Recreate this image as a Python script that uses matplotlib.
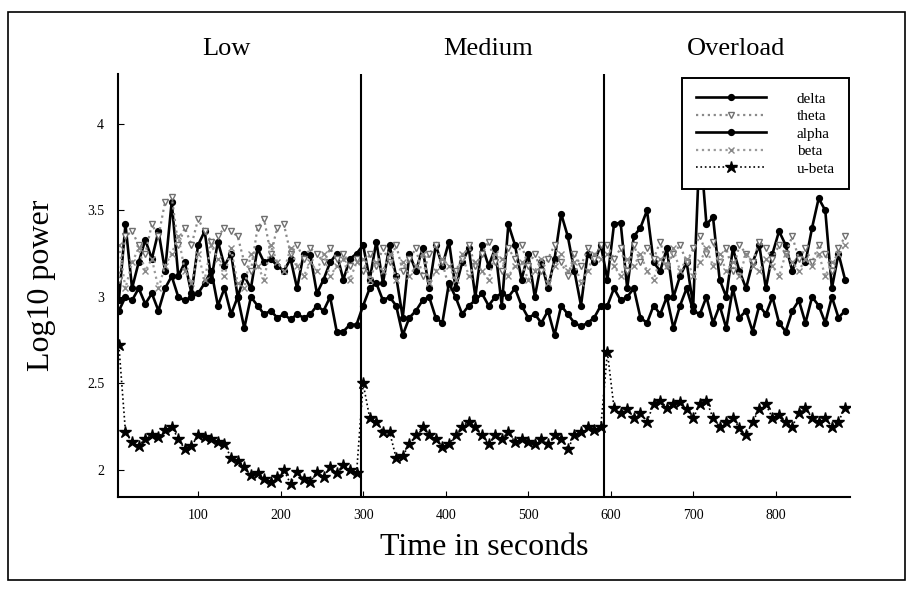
import numpy as np
import matplotlib
matplotlib.use("Agg")
import matplotlib.pyplot as plt
from matplotlib.patches import Rectangle

plt.rcParams['font.family'] = ['Liberation Serif', 'DejaVu Serif']

# time grid: one sample every 8 s
t = np.arange(4, 885, 8)

delta = [2.98, 3.42, 3.05, 3.20, 3.33, 3.22, 3.38, 3.15, 3.55, 3.12, 3.20, 3.02, 3.30, 3.38, 3.10, 3.32, 3.18, 3.25, 3.00,
         3.12, 3.05, 3.28, 3.20, 3.22, 3.18, 3.15, 3.22, 3.05, 3.25, 3.24, 3.02, 3.10, 3.20, 3.25, 3.10, 3.22, 3.25,
         3.30, 3.10, 3.32, 3.08, 3.30, 3.12, 2.88, 3.25, 3.15, 3.28, 3.05, 3.30, 3.18, 3.32, 3.05, 3.20, 3.28, 3.00, 3.30,
         3.18, 3.28, 2.95, 3.42, 3.30, 3.10, 3.25, 3.00, 3.20, 3.05, 3.22, 3.48, 3.35, 3.15, 2.95, 3.25, 3.20, 3.30,
         3.10, 3.42, 3.43, 3.05, 3.35, 3.40, 3.50, 3.20, 3.15, 3.28, 3.00, 3.12, 3.20, 2.95, 3.90, 3.42, 3.46, 3.10, 3.00,
         3.28, 3.15, 3.05, 3.20, 3.30, 3.05, 3.25, 3.38, 3.30, 3.15, 3.25, 3.20, 3.40, 3.57, 3.50, 3.05, 3.25, 3.10]

theta = [3.10, 3.35, 3.38, 3.30, 3.25, 3.42, 3.35, 3.55, 3.58, 3.30, 3.40, 3.30, 3.45, 3.38, 3.32, 3.35, 3.40, 3.38, 3.35,
         3.20, 3.15, 3.40, 3.45, 3.25, 3.40, 3.42, 3.25, 3.30, 3.22, 3.28, 3.25, 3.20, 3.28, 3.22, 3.25, 3.18, 3.22,
         3.15, 3.25, 3.18, 3.28, 3.20, 3.30, 3.15, 3.22, 3.28, 3.12, 3.25, 3.30, 3.20, 3.05, 3.15, 3.22, 3.30, 3.18, 3.25,
         3.32, 3.20, 3.15, 3.28, 3.22, 3.30, 3.18, 3.25, 3.15, 3.22, 3.30, 3.20, 3.12, 3.25, 3.18, 3.28, 3.22, 3.30,
         3.30, 3.22, 3.28, 3.15, 3.30, 3.20, 3.28, 3.22, 3.32, 3.18, 3.25, 3.30, 3.20, 3.28, 3.35, 3.25, 3.32, 3.20, 3.28,
         3.15, 3.30, 3.25, 3.20, 3.32, 3.28, 3.22, 3.30, 3.25, 3.35, 3.22, 3.28, 3.20, 3.30, 3.25, 3.15, 3.28, 3.35]

alpha = [2.92, 3.00, 2.98, 3.05, 2.96, 3.02, 2.92, 3.05, 3.12, 3.00, 2.98, 3.00, 3.02, 3.08, 3.15, 2.95, 3.05, 2.90, 3.00,
         2.82, 3.00, 2.95, 2.90, 2.92, 2.88, 2.90, 2.87, 2.90, 2.88, 2.90, 2.95, 2.92, 3.00, 2.80, 2.80, 2.84, 2.84,
         2.95, 3.05, 3.08, 2.98, 3.00, 2.95, 2.78, 2.88, 2.92, 2.98, 3.00, 2.88, 2.85, 3.08, 3.00, 2.90, 2.95, 2.98, 3.02,
         2.95, 3.00, 3.02, 3.00, 3.05, 2.95, 2.88, 2.90, 2.85, 2.92, 2.78, 2.95, 2.90, 2.85, 2.83, 2.85, 2.88, 2.95,
         2.95, 3.05, 2.98, 3.00, 3.05, 2.88, 2.85, 2.95, 2.90, 3.00, 2.82, 2.95, 3.05, 2.92, 2.90, 3.00, 2.85, 2.95, 2.82,
         3.05, 2.88, 2.92, 2.80, 2.95, 2.90, 3.00, 2.85, 2.80, 2.92, 2.98, 2.85, 3.00, 2.95, 2.85, 3.00, 2.88, 2.92]

beta = [3.30, 3.05, 3.20, 3.28, 3.15, 3.22, 3.05, 3.18, 3.25, 3.35, 3.15, 3.08, 3.25, 3.10, 3.30, 3.22, 3.12, 3.28, 3.08,
        3.05, 3.25, 3.18, 3.10, 3.30, 3.20, 3.15, 3.28, 3.18, 3.12, 3.20, 3.15, 3.25, 3.12, 3.18, 3.22, 3.10, 3.20,
        3.22, 3.10, 3.20, 3.15, 3.25, 3.10, 3.20, 3.12, 3.18, 3.25, 3.08, 3.15, 3.22, 3.18, 3.10, 3.25, 3.12, 3.20, 3.15,
        3.10, 3.25, 3.22, 3.12, 3.18, 3.20, 3.10, 3.15, 3.22, 3.08, 3.18, 3.25, 3.15, 3.20, 3.08, 3.15, 3.25, 3.22,
        3.25, 3.18, 3.12, 3.22, 3.18, 3.25, 3.15, 3.10, 3.22, 3.18, 3.28, 3.15, 3.22, 3.12, 3.20, 3.28, 3.18, 3.25, 3.15,
        3.20, 3.12, 3.25, 3.18, 3.15, 3.22, 3.18, 3.12, 3.25, 3.20, 3.15, 3.22, 3.18, 3.25, 3.12, 3.20, 3.25, 3.30]

ubeta = [2.72, 2.22, 2.16, 2.14, 2.18, 2.20, 2.19, 2.23, 2.25, 2.18, 2.12, 2.14, 2.20, 2.19, 2.18, 2.16, 2.15, 2.07, 2.05,
         2.02, 1.97, 1.98, 1.95, 1.93, 1.96, 2.00, 1.92, 1.99, 1.95, 1.93, 1.99, 1.96, 2.02, 1.98, 2.03, 2.00, 1.98,
         2.50, 2.30, 2.28, 2.22, 2.22, 2.07, 2.08, 2.15, 2.20, 2.25, 2.20, 2.18, 2.13, 2.15, 2.20, 2.25, 2.28, 2.25, 2.20,
         2.15, 2.20, 2.18, 2.22, 2.16, 2.18, 2.16, 2.15, 2.18, 2.15, 2.20, 2.18, 2.12, 2.20, 2.22, 2.25, 2.23, 2.25,
         2.68, 2.36, 2.33, 2.35, 2.30, 2.33, 2.28, 2.38, 2.40, 2.36, 2.38, 2.39, 2.35, 2.30, 2.38, 2.40, 2.30, 2.25, 2.28,
         2.30, 2.24, 2.20, 2.28, 2.35, 2.38, 2.30, 2.32, 2.28, 2.25, 2.33, 2.36, 2.30, 2.28, 2.30, 2.25, 2.28, 2.36]

phases = ['Low', 'Medium', 'Overload']
phase_mid = [134, 451, 752]
phase_edges = [297, 592]

fig = plt.figure(figsize=(9.15, 5.9), dpi=100)
ax = fig.add_axes([0.129, 0.158, 0.8, 0.717])

ax.plot(t, delta, color='black', lw=1.9, marker='o', ms=4.2, label='delta')
ax.plot(t, theta, color='#8a8a8a', lw=1.6, ls=':', marker='v', ms=4, mfc='white', mec='#707070', label='theta')
ax.plot(t, alpha, color='black', lw=1.9, marker='o', ms=4.2, label='alpha')
ax.plot(t, beta, color='#9a9a9a', lw=1.6, ls=':', marker='x', ms=4, mec='#888888', label='beta')
ax.plot(t, ubeta, color='black', lw=1.2, ls=':', marker='*', ms=9, label='u-beta')

for e in phase_edges:
    ax.axvline(e, color='black', lw=1.5)

for name, xm in zip(phases, phase_mid):
    ax.text(xm, 1.059, name, transform=ax.get_xaxis_transform(), ha='center', va='center', fontsize=19)

ax.set_xlim(3, 890)
ax.set_ylim(1.845, 4.29)
ax.set_xticks([100, 200, 300, 400, 500, 600, 700, 800])
ax.set_yticks([2, 2.5, 3, 3.5, 4])
ax.set_yticklabels(['2', '2.5', '3', '3.5', '4'])
ax.tick_params(direction='in', length=4, labelsize=10)
ax.tick_params(axis='x', pad=9)
ax.tick_params(axis='y', pad=10)
ax.spines['top'].set_visible(False)
ax.spines['right'].set_visible(False)
ax.spines['left'].set_linewidth(1.5)
ax.spines['bottom'].set_linewidth(1.5)

ax.set_xlabel('Time in seconds', fontsize=23, labelpad=8)
ax.set_ylabel('Log10 power', fontsize=23, labelpad=22)

leg = ax.legend(loc='upper right', bbox_to_anchor=(1.0, 0.993), borderaxespad=0.1, fontsize=11,
                handlelength=4.6, handletextpad=2.0, labelspacing=0.25, fancybox=False, framealpha=1,
                borderpad=0.9)
leg.get_frame().set_edgecolor('black')
leg.get_frame().set_linewidth(1.4)

fig.patches.append(Rectangle((0.009, 0.017), 0.98, 0.963, transform=fig.transFigure,
                             fill=False, edgecolor='black', lw=1.2))

fig.savefig('out.png', dpi=100)
